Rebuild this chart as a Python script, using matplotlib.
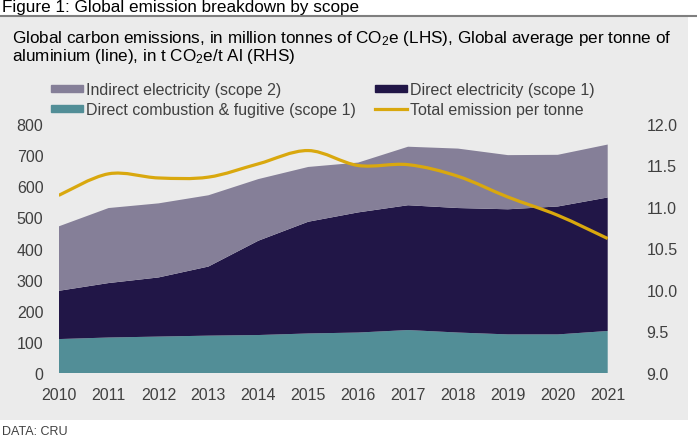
import numpy as np
import matplotlib.pyplot as plt
from matplotlib.patches import Rectangle, Patch
from matplotlib.lines import Line2D
from matplotlib.path import Path
from matplotlib.patches import PathPatch

plt.rcParams['font.family'] = ['Liberation Sans', 'DejaVu Sans']
plt.rcParams['mathtext.fontset'] = 'custom'
plt.rcParams['mathtext.rm'] = 'Liberation Sans'
plt.rcParams['mathtext.it'] = 'Liberation Sans:italic'

##### data
years = [2010, 2011, 2012, 2013, 2014, 2015, 2016, 2017, 2018, 2019, 2020, 2021]
combustion = [109, 114, 117, 120, 122, 127, 130, 138, 130, 124, 124, 135]     # scope 1, fugitive
direct_elec = [155, 175, 190, 222, 303, 359, 386, 401, 400, 402, 411, 429]   # scope 1
indirect_elec = [207, 241, 238, 229, 198, 176, 160, 188, 191, 174, 166, 170] # scope 2
per_tonne = [11.14, 11.40, 11.35, 11.36, 11.52, 11.68, 11.50, 11.51, 11.37, 11.12, 10.90, 10.62]

c_ind = '#857f98'
c_dir = '#211647'
c_comb = '#528e97'
c_line = '#d9a80e'
c_txt = '#404040'
panel = '#ebebeb'

W, H = 697, 439
fig = plt.figure(figsize=(W / 100, H / 100), dpi=100)

def px(x, y):
    # figure pixels (from top-left) -> figure fraction
    return x / W, 1 - y / H

# grey panel + rule under the title
fig.patches.append(Rectangle(px(0, 421), 688 / W, (421 - 18) / H,
                             transform=fig.transFigure, facecolor=panel,
                             edgecolor='none', zorder=-5))
fig.add_artist(Line2D([0, 1], [1 - 17 / H] * 2, transform=fig.transFigure,
                      color='#7f7f7f', lw=1.5))

fig.text(*px(2, 0), 'Figure 1: Global emission breakdown by scope',
         fontsize=12.3, va='top', ha='left', color='black')
fig.text(*px(12, 43), 'Global carbon emissions, in million tonnes of CO$_2$e (LHS), '
         'Global average per tonne of', fontsize=12.3, va='baseline', ha='left', color='black')
fig.text(*px(12, 61), 'aluminium (line), in t CO$_2$e/t Al (RHS)',
         fontsize=12.3, va='baseline', ha='left', color='black')
fig.text(*px(2, 426), 'DATA: CRU', fontsize=9, va='top', ha='left', color=c_txt)

l, b = px(58.7, 374)
ax = fig.add_axes([l, b, 549 / W, 249 / H])
ax.set_facecolor('none')

ax.stackplot(years, combustion, direct_elec, indirect_elec,
             colors=[c_comb, c_dir, c_ind], linewidth=0)
ax.set_xlim(2010, 2021)
ax.set_ylim(0, 800)
ax.set_yticks(range(0, 801, 100))
ax.set_xticks(years)
for s in ax.spines.values():
    s.set_visible(False)
ax.tick_params(length=0, labelsize=11.5, colors=c_txt)
ax.tick_params(axis='y', pad=11)
ax.tick_params(axis='x', pad=10)

ax2 = ax.twinx()
ax2.set_ylim(9.0, 12.0)
ax2.set_yticks(np.arange(9.0, 12.01, 0.5))
ax2.set_yticklabels(['%.1f' % v for v in np.arange(9.0, 12.01, 0.5)])
for s in ax2.spines.values():
    s.set_visible(False)
ax2.tick_params(length=0, labelsize=11.5, colors=c_txt, pad=28)

# smoothed line like Excel (Catmull-Rom -> cubic bezier)
P = np.column_stack([years, per_tonne]).astype(float)
verts = [P[0]]
codes = [Path.MOVETO]
n = len(P)
for i in range(n - 1):
    p0 = P[i - 1] if i > 0 else P[i]
    p3 = P[i + 2] if i + 2 < n else P[i + 1]
    c1 = P[i] + (P[i + 1] - p0) / 6
    c2 = P[i + 1] - (p3 - P[i]) / 6
    verts += [c1, c2, P[i + 1]]
    codes += [Path.CURVE4] * 3
ax2.add_patch(PathPatch(Path(verts, codes), facecolor='none',
                        edgecolor=c_line, lw=2.3, capstyle='butt'))

handles = [Patch(color=c_ind), Patch(color=c_comb), Patch(color=c_dir),
           Line2D([], [], color=c_line, lw=2.3)]
labels = ['Indirect electricity (scope 2)', 'Direct combustion & fugitive (scope 1)',
          'Direct electricity (scope 1)', 'Total emission per tonne']
fig.legend(handles, labels, loc='upper left', bbox_to_anchor=px(51, 83), ncol=2,
           frameon=False, fontsize=11.5, labelcolor=c_txt, handlelength=2.0,
           handleheight=0.3, handletextpad=0.2, columnspacing=1.2,
           labelspacing=0.3, borderaxespad=0, borderpad=0)

fig.savefig('out.png', dpi=100)
